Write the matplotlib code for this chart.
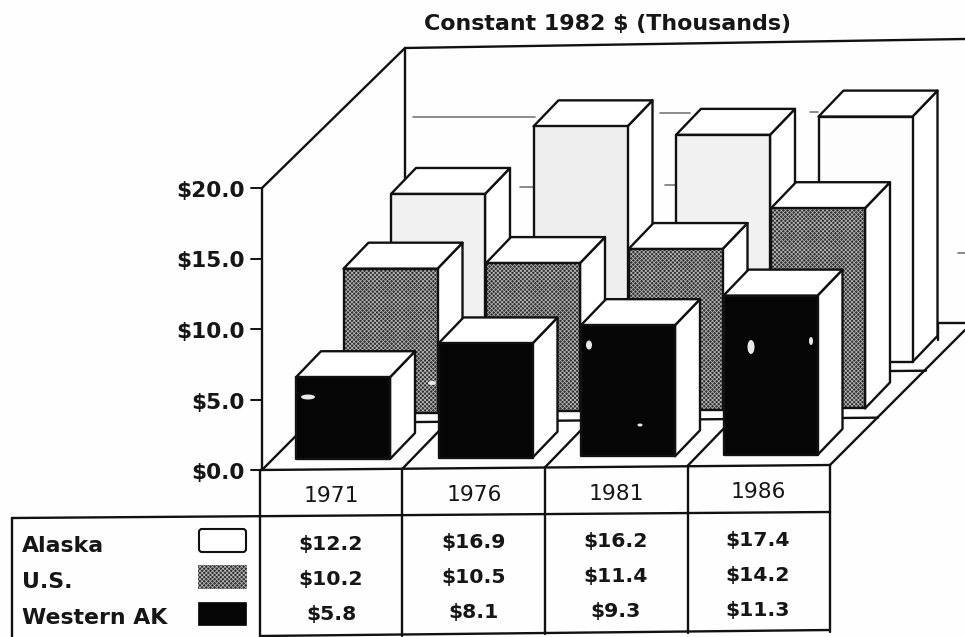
import matplotlib
matplotlib.use('Agg')
import matplotlib.pyplot as plt
from matplotlib.patches import Polygon, Rectangle, FancyBboxPatch, Ellipse

# --- data ---
years = ['1971', '1976', '1981', '1986']
series = ['Alaska', 'U.S.', 'Western AK']
alaska = [12.2, 16.9, 16.2, 17.4]
us = [10.2, 10.5, 11.4, 14.2]
western = [5.8, 8.1, 9.3, 11.3]
yticks = [0, 5, 10, 15, 20]

# --- geometry of the fake 3D view, in image pixels ---
BAR_W = 94
CAT_STEP = 142.5
ROW_DX, ROW_DY = 47.5, 46.5
SIDE_DX, SIDE_DY = 25, 26
PX_PER_DOLLAR = 14.1
TILT = 0.0095  # the scan is slightly rotated
AXIS_X, AXIS_Y = 262, 470

FONT = 'DejaVu Sans'
INK = '#161616'
DITHER = '#303030'

plt.rcParams['hatch.linewidth'] = 0.55

fig = plt.figure(figsize=(9.65, 6.37), dpi=100, facecolor='#fefefe')
ax = fig.add_axes([0, 0, 1, 1])
ax.set_xlim(0, 965)
ax.set_ylim(637, 0)
ax.axis('off')


def tilt_y(x, y):
    return y - TILT * (x - AXIS_X)


def line(x0, y0, x1, y1, z=1, lw=1.7, color='#111111', **kw):
    ax.plot([x0, x1], [y0, y1], color=color, lw=lw, zorder=z, solid_capstyle='round', **kw)


def draw_bar(cat, row, value, face, hatch=None, z=5):
    x = 296 + cat * CAT_STEP + row * ROW_DX
    base = 459 - cat * CAT_STEP * TILT - row * ROW_DY
    top = base - value * PX_PER_DOLLAR
    right = x + BAR_W
    dx, dy = SIDE_DX, SIDE_DY
    front = [(x, base), (right, base), (right, top), (x, top)]
    side = [(right, base), (right + dx, base - dy), (right + dx, top - dy), (right, top)]
    lid = [(x, top), (right, top), (right + dx, top - dy), (x + dx, top - dy)]
    for pts in (side, lid):
        ax.add_patch(Polygon(pts, closed=True, fc='white', ec='#111111', lw=1.7, zorder=z, joinstyle='round'))
    if hatch:
        ax.add_patch(Polygon(front, closed=True, fc=face, ec='#b4b4b4', lw=0, hatch=hatch, zorder=z))
        ax.add_patch(Polygon(front, closed=True, fc='none', ec='#111111', lw=1.7, zorder=z))
    else:
        ax.add_patch(Polygon(front, closed=True, fc=face, ec='#111111', lw=1.7, zorder=z, joinstyle='round'))


# walls
line(AXIS_X, AXIS_Y, AXIS_X, AXIS_Y - 20 * PX_PER_DOLLAR)
line(AXIS_X, AXIS_Y - 20 * PX_PER_DOLLAR, 405, 48)
line(405, 48, 405, 330)
line(405, 48, 965, 39)

# what is left of the back wall gridlines after the scan
for x0, x1, gy in [(413, 535, 117), (660, 690, 113), (810, 818, 112),
                   (520, 535, 187), (665, 676, 185), (958, 965, 253)]:
    line(x0, gy, x1, gy, z=0.5, lw=1.2, color='#777777')

# floor
line(AXIS_X, AXIS_Y, 405, 326)
line(830, 465, 965, 330)
for k, x_end in zip([1, 2], [878, 926]):
    y_end = tilt_y(x_end, AXIS_Y) - k * ROW_DY
    line(405, tilt_y(405, AXIS_Y) - k * ROW_DY, x_end, y_end, z=0.8)
line(938, 323, 965, 323, z=0.8)
line(938, 323, 938, 340, z=0.8)
for i in range(1, 4):
    bx = AXIS_X + i * CAT_STEP - 2
    line(bx, tilt_y(bx, AXIS_Y), bx + 60, tilt_y(bx, AXIS_Y) - 62, z=0.8)

# bars, back row first
alaska_faces = ['#f1f1f1', '#eeeeee', '#f1f1f1', '#fdfdfd']
for c, v in enumerate(alaska):
    draw_bar(c, 2, v, alaska_faces[c], z=3)
for c, v in enumerate(us):
    draw_bar(c, 1, v, DITHER, hatch='xxxxxxxx', z=5)
for c, v in enumerate(western):
    draw_bar(c, 0, v, '#050505', z=7)

# biggest scan specks on the black faces
for sx, sy, sw, sh in [(308, 397, 14, 5), (432, 383, 8, 4), (589, 345, 6, 9),
                       (751, 347, 7, 14), (811, 341, 4, 8), (640, 425, 5, 3)]:
    ax.add_patch(Ellipse((sx, sy), sw, sh, fc='#e8e8e8', ec='none', zorder=7.5))

# y axis ticks and labels
for v in yticks:
    ty = AXIS_Y - v * PX_PER_DOLLAR
    line(AXIS_X - 11, ty, AXIS_X, ty, lw=1.4)
    ax.text(245, ty + 3, f'${v:.1f}', ha='right', va='center', fontsize=15.6,
            family=FONT, weight='bold', color=INK)

ax.text(607, 24, 'Constant 1982 $ (Thousands)', ha='center', va='center', fontsize=15.9,
        family=FONT, weight='bold', color=INK)

# table
table_x = [260, 402, 545, 688, 830]
for tx in table_x:
    line(tx, tilt_y(tx, AXIS_Y), tx, tilt_y(tx, 637), z=8)
line(260, 470, 830, 465, z=8)
line(12, 518, 830, 512, z=8)
line(260, 636, 830, 630, z=8)
line(12, 518, 12, 637, z=8)

col_x = [331, 474, 616, 758]
for i, yr in enumerate(years):
    ax.text(col_x[i], tilt_y(col_x[i], 497), yr, ha='center', va='center', fontsize=15.7,
            family=FONT, color=INK)

row_y = [545, 580, 615]
legend_y = [546, 582, 618]
rows = [alaska, us, western]
for j, vals in enumerate(rows):
    for i, v in enumerate(vals):
        ax.text(col_x[i], tilt_y(col_x[i], row_y[j]), f'${v:.1f}', ha='center', va='center',
                fontsize=14.7, family=FONT, weight='bold', color=INK)
    ax.text(22, legend_y[j], series[j], ha='left', va='center', fontsize=15.8,
            family=FONT, weight='bold', color=INK)

# legend swatches
ax.add_patch(FancyBboxPatch((199, 529), 47, 23, boxstyle='round,pad=0,rounding_size=3',
                            fc='white', ec='#111111', lw=1.5, zorder=9))
ax.add_patch(Rectangle((198, 565), 49, 24, fc=DITHER, ec='#b4b4b4', lw=0, hatch='xxxxxxxx', zorder=9))
ax.add_patch(Rectangle((198, 602), 48, 23, fc='#050505', ec='#050505', lw=0.5, zorder=9))

fig.savefig('out.png', dpi=100, facecolor=fig.get_facecolor())
